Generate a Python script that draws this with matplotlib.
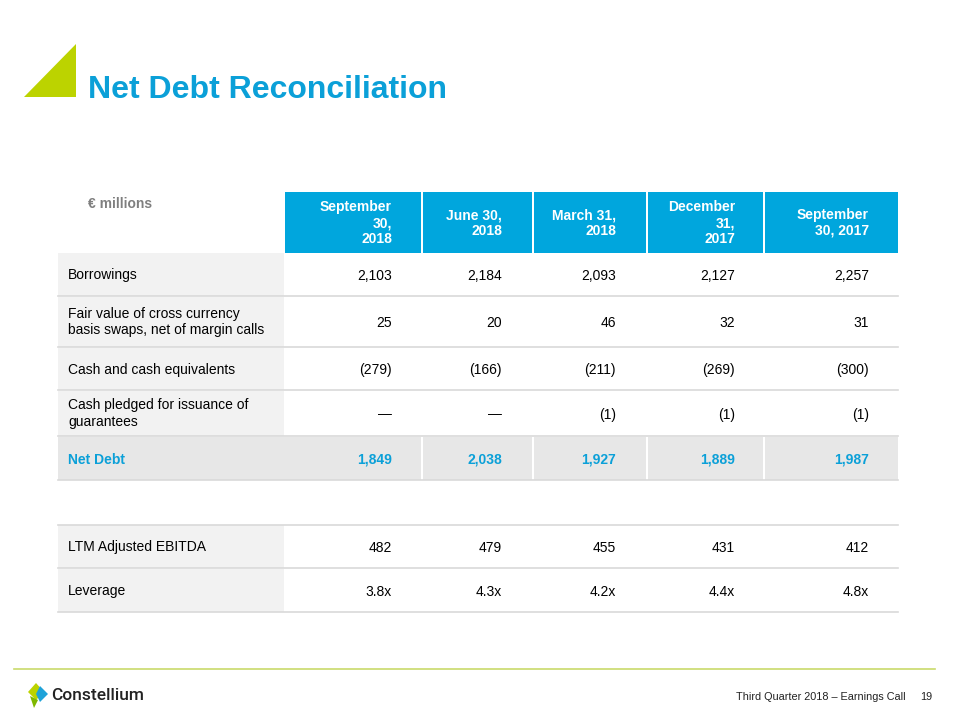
import numpy as np
import matplotlib.pyplot as plt
from matplotlib.patches import Polygon, Rectangle

plt.rcParams['font.family'] = ['Liberation Sans', 'DejaVu Sans']

# table data
col_headers = ['September\n30,\n2018', 'June 30,\n2018', 'March 31,\n2018',
               'December\n31,\n2017', 'September\n30, 2017']
row_labels = ['Borrowings',
              'Fair value of cross currency\nbasis swaps, net of margin calls',
              'Cash and cash equivalents',
              'Cash pledged for issuance of\nguarantees',
              'Net Debt']
borrowings = [2103, 2184, 2093, 2127, 2257]
fair_value = [25, 20, 46, 32, 31]
cash = [-279, -166, -211, -269, -300]
cash_pledged = [0, 0, -1, -1, -1]
net_debt = [1849, 2038, 1927, 1889, 1987]
ebitda = [482, 479, 455, 431, 412]
leverage = [3.8, 4.3, 4.2, 4.4, 4.8]

BLUE = '#00A6DD'
TITLE_BLUE = '#0BA0D8'
LIME = '#BCD300'
GRID = '#D9D9D9'


def fmt(v):
    if v == 0:
        return '\u2014'
    if v < 0:
        return '({:,})'.format(-v)
    return '{:,}'.format(v)


def put(x, mid, s, **kw):
    # single lines sit on a baseline, wrapped ones are centred
    if '\n' in s:
        ax.text(x, mid, s, va='center', linespacing=1.2, **kw)
    else:
        ax.text(x, mid + 5, s, va='baseline', **kw)


fig = plt.figure(figsize=(9.6, 7.2), dpi=100)
ax = fig.add_axes([0, 0, 1, 1])
ax.set_xlim(0, 960)
ax.set_ylim(720, 0)
ax.axis('off')

# title block
ax.add_patch(Polygon([(24, 97), (76, 97), (76, 44)], closed=True, color=LIME, lw=0))
ax.text(88, 98, 'Net Debt Reconciliation', color=TITLE_BLUE, fontsize=23,
        fontweight='bold', va='baseline', ha='left')
ax.text(88, 208, '\u20ac millions', color='#7F7F7F', fontsize=10,
        fontweight='bold', va='baseline', ha='left')

# column geometry
col_left = [285, 423, 534, 648, 765]
col_right = [421, 532, 646, 763, 898]
text_right = [392, 502, 616, 735, 869]
lab_left, lab_right = 58, 284

# header
for l, r, tr, h in zip(col_left, col_right, text_right, col_headers):
    ax.add_patch(Rectangle((l, 192), r - l, 61, color=BLUE, lw=0))
    ax.text(tr, 223, h, color='white', fontsize=10, fontweight='bold',
            ha='right', va='center', multialignment='right', linespacing=1.15)

# body rows: (top, bottom, label, values, is_total)
rows = [
    (253, 296, row_labels[0], [fmt(v) for v in borrowings], False),
    (297, 347, row_labels[1], [fmt(v) for v in fair_value], False),
    (348, 390, row_labels[2], [fmt(v) for v in cash], False),
    (391, 436, row_labels[3], [fmt(v) for v in cash_pledged], False),
    (437, 480, row_labels[4], [fmt(v) for v in net_debt], True),
    (525, 568, 'LTM Adjusted EBITDA', [fmt(v) for v in ebitda], False),
    (569, 612, 'Leverage', ['{:.1f}x'.format(v) for v in leverage], False),
]

for top, bot, label, vals, total in rows:
    mid = (top + bot) / 2
    if total:
        ax.add_patch(Rectangle((lab_left, top), lab_right - lab_left + 1, bot - top,
                               color='#E7E7E7', lw=0))
        for l, r in zip(col_left, col_right):
            ax.add_patch(Rectangle((l, top), r - l, bot - top, color='#E7E7E7', lw=0))
        color, weight = TITLE_BLUE, 'bold'
    else:
        ax.add_patch(Rectangle((lab_left, top), lab_right - lab_left, bot - top,
                               color='#F2F2F2', lw=0))
        color, weight = 'black', 'normal'
    put(68, mid, label, color=color, fontweight=weight, fontsize=10, ha='left')
    for tr, v in zip(text_right, vals):
        put(tr, mid, v, color=color, fontweight=weight, fontsize=10, ha='right')
    ax.plot([lab_left, 898], [bot, bot], color=GRID, lw=1.2)

ax.plot([lab_left, 898], [525, 525], color=GRID, lw=1.2)

# footer
ax.plot([14, 935], [669, 669], color='#C9DA6B', lw=1.2)
ax.add_patch(Polygon([(36, 683), (44, 692), (36, 700), (28, 692)], color=LIME, lw=0))
ax.add_patch(Polygon([(40, 686), (48, 694), (40, 702), (36, 694)], color='#1FA2D8', lw=0))
ax.add_patch(Polygon([(30, 696), (38, 700), (34, 708)], color='#7FB800', lw=0))
ax.text(51, 695, 'Constellium', color='#222222', fontsize=12.5, ha='left',
        va='center', family=['Roboto', 'DejaVu Sans'], fontweight='medium')
ax.text(906, 697, 'Third Quarter 2018 \u2013 Earnings Call', color='#222222',
        fontsize=7.8, ha='right', va='center')
ax.text(932, 697, '19', color='#222222', fontsize=7.8, ha='right', va='center')

fig.savefig('out.png', dpi=100)
